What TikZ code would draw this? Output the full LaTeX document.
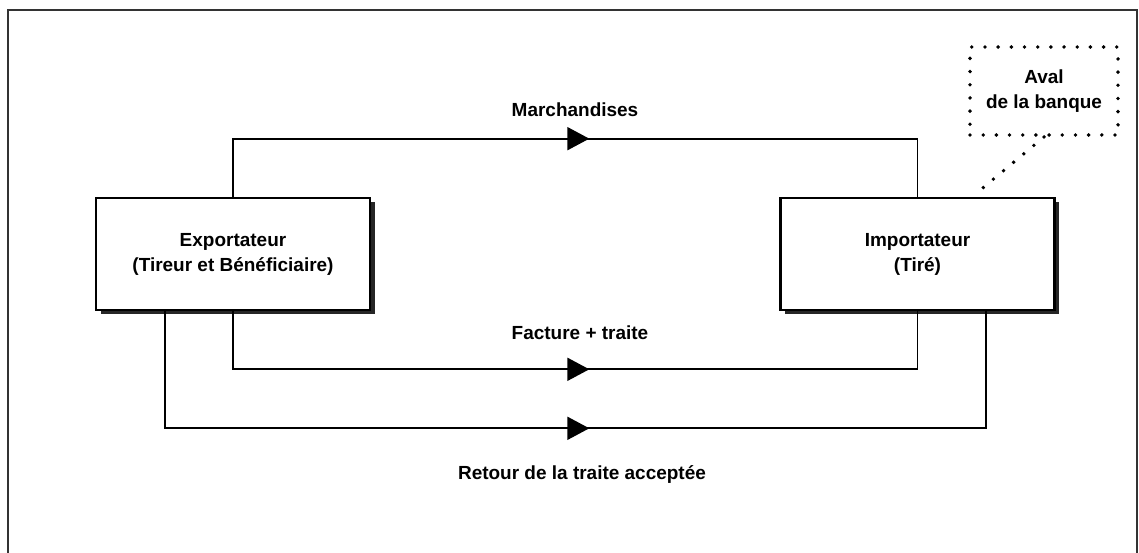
\documentclass[tikz,border=0pt]{standalone}
\usepackage{fontspec}
\setmainfont{Liberation Sans}
\usetikzlibrary{positioning,arrows.meta,decorations.markings,shadows}

\begin{document}
\begin{tikzpicture}[>={Triangle[length=4.4mm,width=4.6mm]},
  font=\bfseries\fontsize{10.8}{14.2}\selectfont,
  party/.style={draw,line width=1.5pt,fill=white,minimum width=5.48cm,minimum height=2.24cm,align=center,
    drop shadow={shadow xshift=0.09cm,shadow yshift=-0.09cm,fill=black!85,opacity=1}},
  flow/.style={line width=1.1pt,postaction={decorate},
    decoration={markings,mark=at position 0.5 with {\arrow[xshift=8pt]{>}}}},
  pointille/.style={line width=2.2pt,line cap=round,dash pattern=on 0pt off 7.5pt}]
\useasboundingbox (0,0) rectangle (22.78,11.06);
% cadre
\draw[line width=1pt,black!80] (0.16,-1) -- (0.16,10.86) -- (22.74,10.86) -- (22.74,-1);
\node[party] (exp) at (4.66,5.98) {Exportateur\\(Tireur et Bénéficiaire)};
\node[party] (imp) at (18.35,5.98) {Importateur\\(Tiré)};
\node[pointille,draw,minimum width=2.96cm,minimum height=1.76cm,align=center] (aval) at (20.88,9.24) {Aval\\de la banque};
\node (march) at (11.5,8.86) {Marchandises};
\node (fact) at (11.6,4.40) {Facture + traite};
\node (ret) at (11.64,1.56) {Retour de la traite acceptée};
% flux
\draw[flow] (exp.north) -- ++(0,1.16) -| (imp.north);
\draw[flow] (exp.south) -- ++(0,-1.16) -| (imp.south);
\draw[flow] ([xshift=1.4cm]exp.south west) -- ++(0,-2.34) -| ([xshift=-1.4cm]imp.south east);
\draw[pointille] (aval.south) -- ([xshift=-1.55cm,yshift=0.1cm]imp.north east);
\end{tikzpicture}
\end{document}
